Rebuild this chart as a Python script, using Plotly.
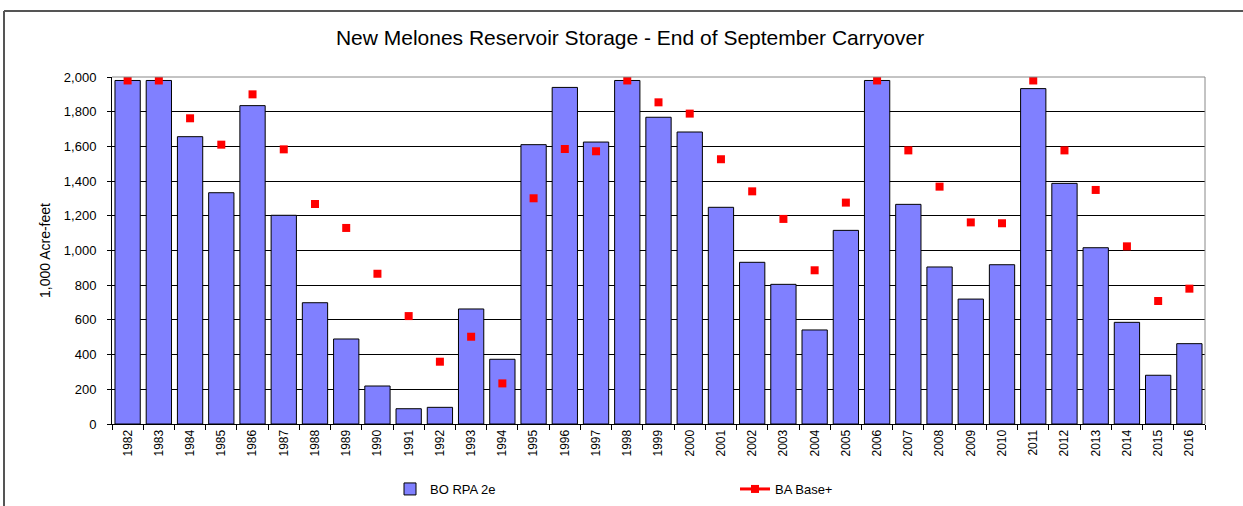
import plotly.graph_objects as go

years = [str(y) for y in range(1982, 2017)]
bo_rpa_2e = [1980, 1980, 1656, 1333, 1835, 1203, 699, 490, 219, 88, 96, 663, 373,
             1610, 1940, 1625, 1980, 1768, 1683, 1249, 932, 805, 542, 1116, 1980,
             1266, 905, 720, 918, 1933, 1387, 1016, 586, 281, 463]
ba_base_plus = [1980, 1980, 1762, 1610, 1900, 1583, 1268, 1130, 866, 622, 359, 503, 234,
                1301, 1585, 1572, 1980, 1854, 1789, 1526, 1341, 1182, 886, 1276, 1980,
                1577, 1368, 1162, 1157, 1980, 1577, 1349, 1024, 709, 780]
y_ticks = list(range(0, 2001, 200))

FONT = "Liberation Sans, Arial, sans-serif"

fig = go.Figure()
fig.add_trace(go.Bar(
    x=years, y=bo_rpa_2e, name="BO RPA 2e",
    marker=dict(color="#8080FF", line=dict(color="black", width=1)),
))
fig.add_trace(go.Scatter(
    x=years, y=ba_base_plus, name="BA Base+", mode="markers",
    marker=dict(symbol="square", size=8, color="#FF0000"),
    showlegend=False,
))
fig.add_trace(go.Scatter(
    x=[None], y=[None], name="BA Base+", mode="lines+markers",
    line=dict(color="#FF0000", width=3),
    marker=dict(symbol="square", size=8, color="#FF0000"),
))

fig.update_layout(
    width=1243, height=506,
    margin=dict(l=112, r=38, t=77, b=82),
    paper_bgcolor="white", plot_bgcolor="white",
    font=dict(family=FONT, size=12, color="black"),
    title=dict(text="New Melones Reservoir Storage - End of September Carryover",
               x=630 / 1243, xanchor="center", y=1 - 38 / 506, yanchor="middle",
               font=dict(family=FONT, size=21, color="black")),
    bargap=0.19,
    showlegend=True,
    legend=dict(orientation="h", xref="container", yref="container",
                x=390 / 1243, xanchor="left",
                y=1 - 489 / 506, yanchor="middle",
                entrywidth=300, font=dict(family=FONT, size=13),
                bgcolor="rgba(0,0,0,0)"),
    xaxis=dict(type="category", range=[-0.5, len(years) - 0.5], autorange=False,
               tickangle=-90, ticks="outside", tickson="boundaries",
               ticklen=5, tickcolor="black", showline=True, linecolor="black",
               linewidth=1, showgrid=False, tickfont=dict(size=12), automargin=False),
    yaxis=dict(range=[0, 2000], tickvals=y_ticks, tickformat=",", ticks="outside",
               ticklen=4, tickcolor="black", showline=True, linecolor="black",
               linewidth=1, showgrid=True, gridcolor="black", gridwidth=1,
               zeroline=False, tickfont=dict(size=13), ticklabelstandoff=8,
               automargin=False,
               title=dict(text="1,000 Acre-feet", font=dict(size=14), standoff=9)),
    shapes=[
        dict(type="line", xref="paper", yref="paper", x0=0, x1=1, y0=1, y1=1,
             line=dict(color="#888888", width=1), layer="above"),
        dict(type="line", xref="paper", yref="paper", x0=1, x1=1, y0=0, y1=1,
             line=dict(color="#888888", width=1), layer="above"),
        dict(type="line", xref="paper", yref="paper", x0=(4 - 112) / 1093, x1=1.2,
             y0=(424 - 11) / 347, y1=(424 - 11) / 347,
             line=dict(color="#555555", width=2)),
        dict(type="line", xref="paper", yref="paper", x0=(4 - 112) / 1093, x1=(4 - 112) / 1093,
             y0=-0.5, y1=(424 - 11) / 347,
             line=dict(color="#555555", width=2)),
    ],
)

fig.write_html("out.html", config={"displayModeBar": False},
               post_script="document.body.style.margin='0';document.body.style.padding='0';")
